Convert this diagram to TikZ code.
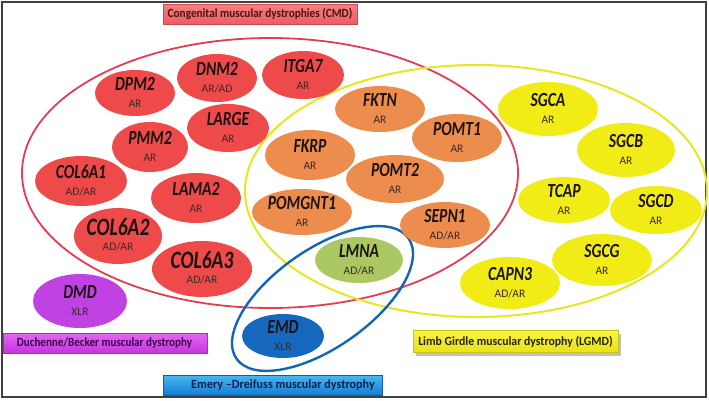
\documentclass[tikz,border=0pt]{standalone}
\usepackage{fontspec}
\setmainfont{Carlito}
\usepackage{graphicx}
\usetikzlibrary{shapes.geometric}

\definecolor{cmdred}{RGB}{239,74,74}
\definecolor{orng}{RGB}{236,141,78}
\definecolor{ylw}{RGB}{241,236,22}
\definecolor{grn}{RGB}{172,200,98}
\definecolor{prpl}{RGB}{192,66,226}
\definecolor{bluefill}{RGB}{22,104,190}
\definecolor{genetxt}{RGB}{28,18,18}
\definecolor{inhtxt}{RGB}{62,40,40}
\definecolor{redline}{RGB}{226,62,82}
\definecolor{ylwline}{RGB}{232,230,30}
\definecolor{blueline}{RGB}{18,102,180}

\newcommand{\gtxt}[2]{{\fontsize{#1}{#1}\selectfont\bfseries\itshape\scalebox{0.78}[1]{#2}}}
\newcommand{\lbltxt}[2]{\scalebox{#1}[1]{#2}}

% \genenode{name}{x}{y}{rx}{ry}{fill}{GENE}{inheritance}{size}
\newcommand{\genenode}[9]{%
  \node[geneshape, fill=#6, minimum width=#4*2pt, minimum height=#5*2pt] (#1) at (#2,#3) {};
  \node[genelabel] (#1-g) at ([yshift=9pt]#1.center) {\gtxt{#9}{#7}};
  \node[inhlabel] (#1-i) at ([yshift=-11pt]#1.center) {#8};
}

\tikzset{
  geneshape/.style={ellipse, draw=none, inner sep=0pt, outer sep=0pt},
  genelabel/.style={inner sep=0pt, text=genetxt},
  inhlabel/.style={inner sep=0pt, text=inhtxt, font=\fontsize{11.5}{12}\selectfont},
  groupbox/.style={draw, line width=0.8pt, inner sep=0pt, minimum height=20pt,
     font=\fontsize{12.5}{13}\selectfont\bfseries},
  boxtext/.style={inner sep=0pt, font=\fontsize{12.5}{13}\selectfont\bfseries},
}

\begin{document}
\begin{tikzpicture}[x=1pt, y=-1pt]
\useasboundingbox (0,0) rectangle (709,400);
\fill[white] (0,0) rectangle (709,400);
\draw[black!75, line width=1.5pt] (2,2) rectangle (706,397);

% group outlines
\draw[redline, line width=1.8pt] (270,173) ellipse [x radius=248pt, y radius=135pt];
\draw[ylwline, line width=2pt] (476,191) ellipse [x radius=231pt, y radius=126pt];
\draw[blueline, line width=2.4pt, rotate around={35:(322.5,298.5)}] (322.5,298.5) ellipse [x radius=105pt, y radius=49pt];

% CMD genes
\genenode{dpm2}{135}{93}{40}{23}{cmdred}{DPM2}{AR}{20}
\genenode{dnm2}{217}{78}{40}{24}{cmdred}{DNM2}{AR/AD}{20}
\genenode{itga7}{303}{75}{41}{24}{cmdred}{ITGA7}{AR}{20}
\genenode{large}{228}{128}{41}{24}{cmdred}{LARGE}{AR}{20}
\genenode{pmm2}{150}{147}{38}{25}{cmdred}{PMM2}{AR}{20}
\genenode{col6a1}{81}{181}{46}{25}{cmdred}{COL6A1}{AD/AR}{20}
\genenode{lama2}{196}{198}{45}{25}{cmdred}{LAMA2}{AR}{20}
\genenode{col6a2}{118}{236}{44}{28}{cmdred}{COL6A2}{AD/AR}{25}
\genenode{col6a3}{202}{269}{50}{28}{cmdred}{COL6A3}{AD/AR}{25}

% overlap genes
\genenode{fktn}{380}{109}{45}{23}{orng}{FKTN}{AR}{20}
\genenode{pomt1}{457}{138}{45}{24}{orng}{POMT1}{AR}{20}
\genenode{fkrp}{310}{155}{45}{25}{orng}{FKRP}{AR}{20}
\genenode{pomt2}{395}{179}{49}{24}{orng}{POMT2}{AR}{20}
\genenode{pomgnt1}{302}{212}{50}{23}{orng}{POMGNT1}{AR}{20}
\genenode{sepn1}{445}{225}{45}{23}{orng}{SEPN1}{AD/AR}{20}
\genenode{lmna}{359}{260}{44}{23}{grn}{LMNA}{AD/AR}{20}

% LGMD genes
\genenode{sgca}{548}{109}{50}{27}{ylw}{SGCA}{AR}{20}
\genenode{sgcb}{626}{150}{49}{27}{ylw}{SGCB}{AR}{20}
\genenode{tcap}{564}{200}{46}{23}{ylw}{TCAP}{AR}{20}
\genenode{sgcd}{656}{210}{46}{24}{ylw}{SGCD}{AR}{20}
\genenode{sgcg}{602}{260}{50}{26}{ylw}{SGCG}{AR}{20}
\genenode{capn3}{510}{283}{50}{26}{ylw}{CAPN3}{AD/AR}{20}

% others
\genenode{dmd}{80}{301}{47}{27}{prpl}{DMD}{XLR}{20}
\genenode{emd}{283}{336}{41}{22}{bluefill}{EMD}{XLR}{20}

% group labels
\node[groupbox, draw={rgb,255:red,205;green,70;blue,80}, top color={rgb,255:red,246;green,128;blue,128}, bottom color={rgb,255:red,236;green,92;blue,96}, minimum width=194pt] (cmdlabel) at (260,14) {};
\node[boxtext, text={rgb,255:red,70;green,20;blue,20}] (cmdtext) at (cmdlabel.center) {\lbltxt{0.9}{Congenital muscular dystrophies (CMD)}};

\node[groupbox, draw={rgb,255:red,170;green,40;blue,200}, top color={rgb,255:red,226;green,104;blue,240}, bottom color={rgb,255:red,198;green,52;blue,222}, minimum width=204pt] (dmdlabel) at (105,343) {};
\node[boxtext, text={rgb,255:red,60;green,0;blue,80}] (dmdtext) at (104.5,343.5) {\lbltxt{0.885}{Duchenne/Becker muscular dystrophy}};

\node[groupbox, draw={rgb,255:red,20;green,90;blue,170}, top color={rgb,255:red,70;green,185;blue,242}, bottom color={rgb,255:red,22;green,125;blue,212}, minimum width=219pt] (emdlabel) at (272.5,385) {};
\node[boxtext, text={rgb,255:red,10;green,30;blue,80}] (emdtext) at (283,385.5) {\lbltxt{0.97}{Emery --Dreifuss muscular dystrophy}};

\fill[black!25] (416,334) rectangle (621,356);
\node[groupbox, draw={rgb,255:red,200;green,195;blue,20}, top color={rgb,255:red,248;green,244;blue,70}, bottom color={rgb,255:red,232;green,226;blue,20}, minimum width=205pt, minimum height=22pt] (lgmdlabel) at (515.5,341.5) {};
\node[boxtext, text={rgb,255:red,40;green,35;blue,10}] (lgmdtext) at (lgmdlabel.center) {\lbltxt{0.94}{Limb Girdle muscular dystrophy (LGMD)}};
\end{tikzpicture}
\end{document}
